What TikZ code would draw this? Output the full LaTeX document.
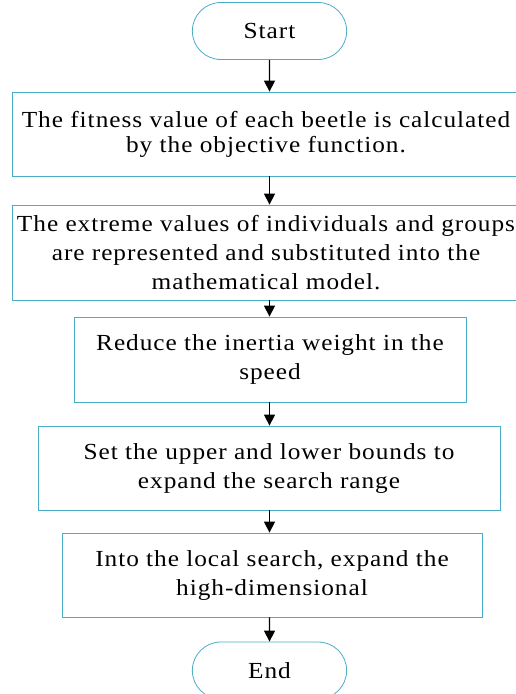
\documentclass[tikz,border=0pt]{standalone}
\usepackage{fontspec}
\setmainfont{Liberation Serif}[FakeStretch=1.1,LetterSpace=4.2]
\usetikzlibrary{shapes.misc,arrows.meta}
\definecolor{flowblue}{RGB}{75,172,198}

\begin{document}
\begin{tikzpicture}[x=1pt,y=1pt]
	\tikzstyle{every node}+=[font=\fontsize{23}{29}\selectfont]
	\tikzstyle{box}=[draw=flowblue, line width=0.8pt, rectangle, align=center, inner sep=0pt]
	\tikzstyle{term}=[draw=flowblue, line width=0.8pt, rounded rectangle, minimum width=161pt, minimum height=57pt]
	\tikzstyle{flow}=[black, line width=1.3pt, -{Triangle[length=11pt,width=11pt]}]
	\useasboundingbox (0,0) rectangle (516,-694);
	\node[term] (start) at (269.5,-31) {Start};
	\node[box, minimum width=508pt, minimum height=84pt, font=\fontsize{23}{25}\selectfont] (fitness) at (266,-134) {The fitness value of each beetle is calculated\\by the objective function.};
	\node[box, minimum width=508pt, minimum height=95pt] (extreme) at (266,-252.5) {The extreme values of individuals and groups\\are represented and substituted into the\\mathematical model.};
	\node[box, minimum width=392pt, minimum height=85pt] (inertia) at (270,-359.5) {Reduce the inertia weight in the\\speed};
	\node[box, minimum width=462pt, minimum height=84pt] (bounds) at (269,-468) {Set the upper and lower bounds to\\expand the search range};
	\node[box, minimum width=420pt, minimum height=84pt] (local) at (272,-575) {Into the local search, expand the\\high-dimensional};
	\node[term] (stop) at (269.5,-670.5) {End};
	\draw[flow] (start) -- (start |- fitness.north);
	\draw[flow] (fitness.south -| start) -- (extreme.north -| start);
	\draw[flow] (extreme.south -| start) -- (inertia.north -| start);
	\draw[flow] (inertia.south -| start) -- (bounds.north -| start);
	\draw[flow] (bounds.south -| start) -- (local.north -| start);
	\draw[flow] (local.south -| start) -- (stop);
\end{tikzpicture}
\end{document}
